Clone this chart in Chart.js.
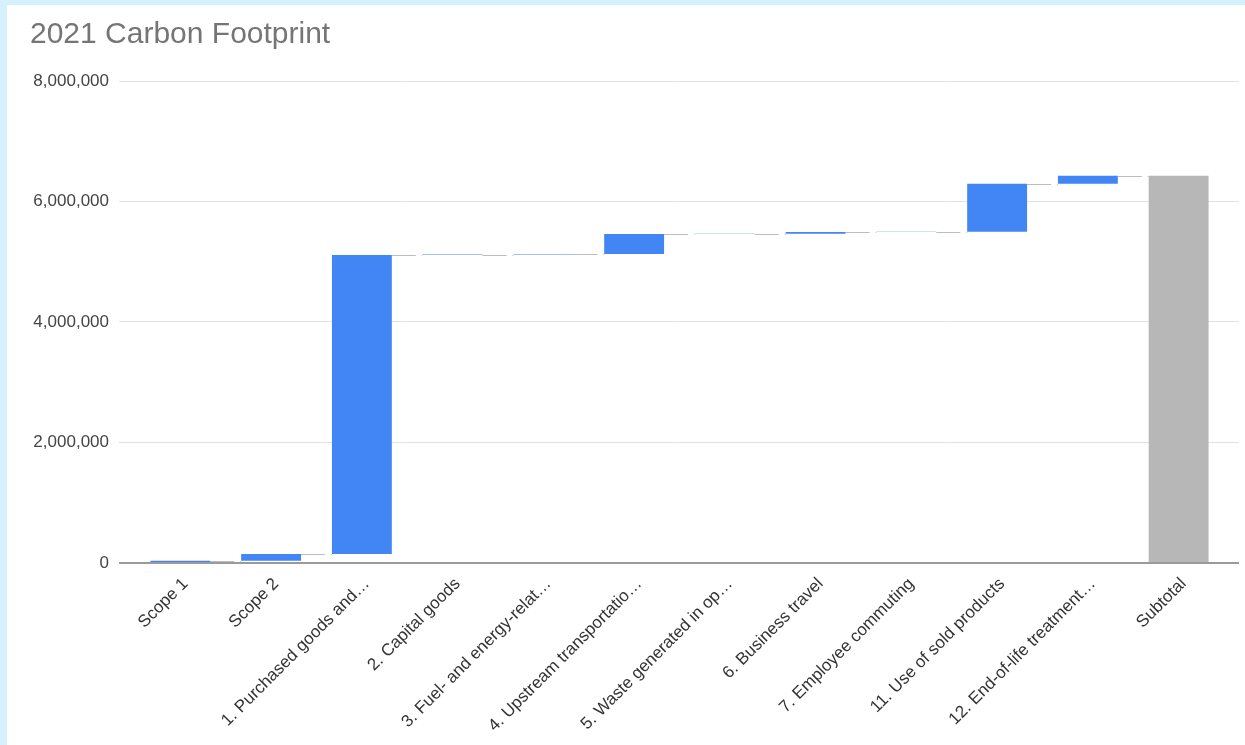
<!DOCTYPE html>
<html>
<head>
<meta charset="utf-8">
<title>2021 Carbon Footprint</title>
<script src="https://cdn.jsdelivr.net/npm/chart.js@4.4.1/dist/chart.umd.min.js"></script>
<style>
  html, body { margin: 0; padding: 0; background: #d5f1fd; overflow: hidden; }
  #wrap { position: absolute; left: 7px; top: 5px; width: 1238px; height: 740px; background: #fff; }
</style>
</head>
<body>
<div id="wrap"><canvas id="carbon-chart" width="1238" height="740"></canvas></div>
<script>
// Categories as shown on the x axis (Sheets cuts the long names short)
const categories = [
  'Scope 1', 'Scope 2', '1. Purchased goods and…', '2. Capital goods',
  '3. Fuel- and energy-relat…', '4. Upstream transportatio…', '5. Waste generated in op…',
  '6. Business travel', '7. Employee commuting', '11. Use of sold products',
  '12. End-of-life treatment…'
];
// Emissions per category (tCO2e)
const emissions = [35000, 115000, 4960000, 8000, 12000, 330000, 3000, 30000, 5000, 795000, 135000];
const subtotalLabel = 'Subtotal';
const yTicks = [0, 2000000, 4000000, 6000000, 8000000];

// Build the waterfall: each step floats on top of the running total
let running = 0;
const steps = emissions.map(v => {
  const start = running;
  running += v;
  return [start, running];
});
const cumulative = steps.map(s => s[1]);
cumulative.push(running);

const labels = categories.concat([subtotalLabel]);
const barData = steps.concat([[0, running]]);
const barColors = labels.map(l => l === subtotalLabel ? '#b7b7b7' : '#4285f4');

const gridColor = ctx => ctx.tick && ctx.tick.value === 0 ? '#9a9a9a' : '#e2e2e2';
const gridWidth = ctx => ctx.tick && ctx.tick.value === 0 ? 2 : 1;
const fontFamily = '"Liberation Sans", Arial, sans-serif';

// Dashed connectors from each bar top to the next bar
const connectors = {
  id: 'connectors',
  beforeDatasetsDraw(chart) {
    const meta = chart.getDatasetMeta(0);
    const y = chart.scales.y;
    const c = chart.ctx;
    c.save();
    c.strokeStyle = '#bdbdbd';
    c.lineWidth = 1;
    c.setLineDash([24, 6, 6, 6]);
    for (let i = 0; i < meta.data.length - 1; i++) {
      const a = meta.data[i], b = meta.data[i + 1];
      const py = Math.round(y.getPixelForValue(cumulative[i])) + 0.5;
      c.beginPath();
      c.moveTo(a.x + a.width / 2, py);
      c.lineTo(b.x - b.width / 2, py);
      c.stroke();
    }
    c.restore();
  }
};

const ctx = document.getElementById('carbon-chart').getContext('2d');
const chart = new Chart(ctx, {
  type: 'bar',
  data: {
    labels: labels,
    datasets: [{
      data: barData,
      backgroundColor: barColors,
      borderWidth: 0,
      barPercentage: 0.66,
      categoryPercentage: 1
    }]
  },
  options: {
    responsive: false,
    animation: false,
    layout: { padding: { left: 23, right: 6, top: 0, bottom: 6 } },
    plugins: {
      legend: { display: false },
      tooltip: { enabled: false },
      title: {
        display: true,
        text: '2021 Carbon Footprint',
        align: 'start',
        color: '#757575',
        font: { family: fontFamily, size: 30, weight: 'normal' },
        padding: { top: 12, bottom: 28 }
      }
    },
    scales: {
      x: {
        grid: { display: false },
        border: { display: false },
        afterFit: axis => { axis.paddingLeft = 0; axis.paddingRight = 0; },
        ticks: {
          autoSkip: false,
          minRotation: 45,
          maxRotation: 45,
          labelOffset: 5,
          color: '#333',
          font: { family: fontFamily, size: 17 }
        }
      },
      y: {
        min: 0,
        max: 8000000,
        afterBuildTicks: axis => { axis.ticks = yTicks.map(v => ({ value: v })); },
        afterFit: axis => { axis.width = 105; },
        border: { display: false },
        grid: { color: gridColor, lineWidth: gridWidth, tickLength: 16 },
        ticks: {
          padding: 10,
          color: '#444',
          font: { family: fontFamily, size: 17 },
          callback: v => v.toLocaleString('en-US')
        }
      },
      yRight: {
        position: 'right',
        min: 0,
        max: 8000000,
        afterBuildTicks: axis => { axis.ticks = yTicks.map(v => ({ value: v })); },
        border: { display: false },
        grid: { drawOnChartArea: false, color: gridColor, lineWidth: gridWidth, tickLength: 15 },
        ticks: { display: false }
      }
    }
  },
  plugins: [connectors]
});
</script>
</body>
</html>
